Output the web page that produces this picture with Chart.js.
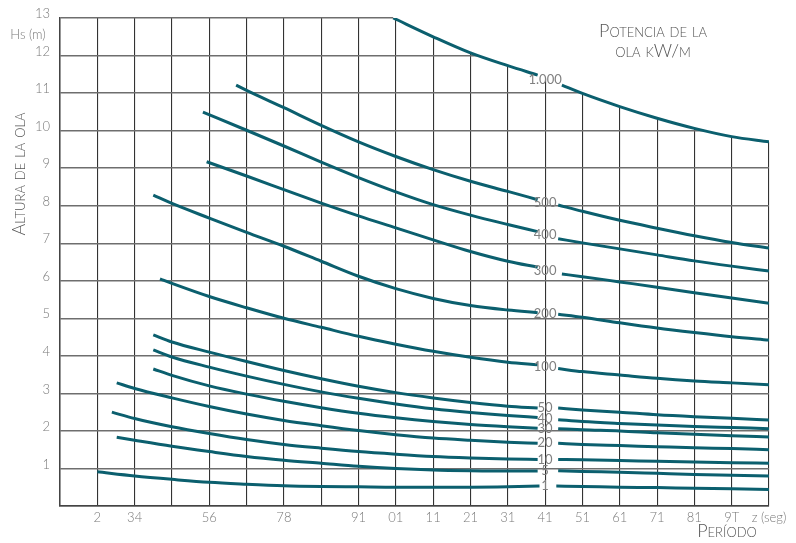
<!DOCTYPE html>
<html lang="es">
<head>
<meta charset="utf-8">
<title>Potencia de la ola</title>
<script src="https://cdn.jsdelivr.net/npm/chart.js@4.4.1/dist/chart.umd.min.js"></script>
<style>
  html, body { margin: 0; padding: 0; background: #fff; }
  #wrap { position: relative; width: 796px; height: 543px; }
</style>
</head>
<body>
<div id="wrap"><canvas id="olaChart"></canvas></div>
<script>
// rótulos del eje de períodos, uno por línea vertical (T = 1 ... 20), tal como aparecen
const etiquetasX = ['', '2', '34', '', '56', '', '78', '', '91', '01', '11', '21', '31', '41', '51', '61', '71', '81', '9T', 'z (seg)'];

// potencia de cada curva (kW/m)
const potencias = ['1', '5', '10', '20', '30', '40', '50', '100', '200', '300', '400', '500', '1.000'];

// [período, altura Hs]
const ola1 = [[2, 0.91], [3, 0.80], [4, 0.71], [5, 0.63], [6, 0.58], [7, 0.54], [8, 0.52], [9, 0.51], [10, 0.50], [11, 0.50], [12, 0.50], [13, 0.51], [13.85, 0.53], [14.3, 0.53], [15, 0.52], [16, 0.50], [17, 0.49], [18, 0.47], [19, 0.46], [20, 0.44]];
const ola5 = [[2.52, 1.83], [3, 1.75], [4, 1.59], [5, 1.45], [6, 1.32], [7, 1.22], [8, 1.14], [9, 1.06], [10, 1.00], [11, 0.96], [12, 0.94], [13, 0.93], [13.8, 0.93], [14.35, 0.94], [15, 0.92], [16, 0.90], [17, 0.87], [18, 0.84], [19, 0.82], [20, 0.80]];
const ola10 = [[2.39, 2.50], [3, 2.33], [4, 2.11], [5, 1.93], [6, 1.77], [7, 1.64], [8, 1.54], [9, 1.45], [10, 1.38], [11, 1.32], [12, 1.28], [13, 1.25], [13.8, 1.24], [14.35, 1.24], [15, 1.23], [16, 1.21], [17, 1.19], [18, 1.17], [19, 1.15], [20, 1.14]];
const ola20 = [[2.52, 3.28], [3, 3.13], [4, 2.88], [5, 2.65], [6, 2.45], [7, 2.28], [8, 2.14], [9, 2.01], [10, 1.90], [11, 1.81], [12, 1.75], [13, 1.70], [13.8, 1.67], [14.35, 1.67], [15, 1.64], [16, 1.61], [17, 1.58], [18, 1.55], [19, 1.53], [20, 1.50]];
const ola30 = [[3.5, 3.65], [4, 3.48], [5, 3.20], [6, 2.98], [7, 2.79], [8, 2.62], [9, 2.47], [10, 2.35], [11, 2.25], [12, 2.17], [13, 2.11], [13.8, 2.07], [14.35, 2.06], [15, 2.03], [16, 2.00], [17, 1.95], [18, 1.91], [19, 1.87], [20, 1.84]];
const ola40 = [[3.5, 4.16], [4, 3.97], [5, 3.70], [6, 3.46], [7, 3.24], [8, 3.04], [9, 2.87], [10, 2.72], [11, 2.59], [12, 2.49], [13, 2.41], [13.8, 2.36], [14.35, 2.30], [15, 2.25], [16, 2.20], [17, 2.16], [18, 2.12], [19, 2.09], [20, 2.06]];
const ola50 = [[3.5, 4.56], [4, 4.37], [5, 4.10], [6, 3.85], [7, 3.61], [8, 3.39], [9, 3.19], [10, 3.02], [11, 2.88], [12, 2.76], [13, 2.66], [13.8, 2.61], [14.35, 2.61], [15, 2.56], [16, 2.50], [17, 2.43], [18, 2.38], [19, 2.34], [20, 2.29]];
const ola100 = [[3.68, 6.05], [4, 5.93], [5, 5.58], [6, 5.28], [7, 5.00], [8, 4.76], [9, 4.52], [10, 4.31], [11, 4.12], [12, 3.96], [13, 3.83], [13.8, 3.76], [14.35, 3.66], [15, 3.58], [16, 3.49], [17, 3.40], [18, 3.33], [19, 3.28], [20, 3.23]];
const ola200 = [[3.5, 8.28], [4, 8.06], [5, 7.67], [6, 7.29], [7, 6.92], [8, 6.52], [9, 6.12], [10, 5.79], [11, 5.53], [12, 5.34], [13, 5.22], [13.8, 5.15], [14.35, 5.11], [15, 5.03], [16, 4.88], [17, 4.74], [18, 4.62], [19, 4.51], [20, 4.42]];
const ola300 = [[4.93, 9.17], [6, 8.79], [7, 8.43], [8, 8.07], [9, 7.73], [10, 7.41], [11, 7.09], [12, 6.78], [13, 6.52], [13.8, 6.36], [14.45, 6.18], [15, 6.11], [16, 5.97], [17, 5.83], [18, 5.68], [19, 5.54], [20, 5.40]];
const ola400 = [[4.83, 10.49], [6, 10.01], [7, 9.59], [8, 9.16], [9, 8.75], [10, 8.37], [11, 8.03], [12, 7.75], [13, 7.50], [13.8, 7.31], [14.35, 7.12], [15, 7.01], [16, 6.85], [17, 6.69], [18, 6.53], [19, 6.39], [20, 6.26]];
const ola500 = [[5.72, 11.21], [6, 11.07], [7, 10.61], [8, 10.14], [9, 9.70], [10, 9.31], [11, 8.96], [12, 8.65], [13, 8.38], [13.8, 8.16], [14.35, 8.02], [15, 7.85], [16, 7.61], [17, 7.40], [18, 7.20], [19, 7.02], [20, 6.87]];
const ola1000 = [[9.93, 13.0], [11, 12.50], [12, 12.07], [13, 11.73], [13.8, 11.48], [14.45, 11.21], [15, 10.99], [16, 10.64], [17, 10.33], [18, 10.06], [19, 9.84], [20, 9.70]];

const curvas = [ola1, ola5, ola10, ola20, ola30, ola40, ola50, ola100, ola200, ola300, ola400, ola500, ola1000];

const TEAL = '#0b5f6e';
const GRIS = '#7a7a7a';
const CORTE = 14; // línea vertical donde van los rótulos de potencia

// hueco en la curva donde se escribe el rótulo
function conHueco(pares) {
  const pts = [];
  pares.forEach(([t, h], i) => {
    if (i > 0 && pares[i - 1][0] < CORTE && t > CORTE) pts.push({x: CORTE, y: null});
    pts.push({x: t, y: h});
  });
  return pts;
}

// la rejilla no se dibuja por encima de la curva de 1.000
const recorteRejilla = {
  id: 'recorteRejilla',
  beforeDraw(chart) {
    const {ctx, chartArea: a, scales: {x, y}} = chart;
    const pts = ola1000.map(([t, h]) => [x.getPixelForValue(t), y.getPixelForValue(h)]);
    ctx.save();
    ctx.beginPath();
    ctx.rect(0, 0, chart.width, chart.height);
    ctx.moveTo(pts[0][0], a.top - 4);
    pts.forEach(([px, py]) => ctx.lineTo(px, py));
    ctx.lineTo(a.right + 4, pts[pts.length - 1][1]);
    ctx.lineTo(a.right + 4, a.top - 4);
    ctx.closePath();
    ctx.clip('evenodd');
  },
  beforeDatasetsDraw(chart) {
    chart.ctx.restore();
  }
};

const rotulos = {
  id: 'rotulos',
  afterDatasetsDraw(chart) {
    const {ctx, scales: {x, y}} = chart;
    ctx.save();
    ctx.fillStyle = '#808080';
    ctx.font = '13px Lato';
    ctx.textAlign = 'center';
    ctx.textBaseline = 'middle';
    curvas.forEach((c, i) => {
      const k = c.findIndex(p => p[0] > CORTE);
      const h = (c[k - 1][1] + c[k][1]) / 2;
      ctx.fillText(potencias[i], x.getPixelForValue(CORTE), y.getPixelForValue(h));
    });
    ctx.restore();
  },
  afterDraw(chart) {
    const {ctx} = chart;
    ctx.save();
    ctx.fillStyle = '#555';
    ctx.textAlign = 'center';
    ctx.textBaseline = 'alphabetic';
    ctx.font = 'small-caps 300 18px Lato';
    ctx.fillText('Potencia de la', 653, 37);
    ctx.fillText('ola kW/m', 653, 57);
    ctx.fillText('Período', 727, 537);

    ctx.save();
    ctx.translate(25, 174);
    ctx.rotate(-Math.PI / 2);
    ctx.fillText('Altura de la ola', 0, 0);
    ctx.restore();

    ctx.fillStyle = GRIS;
    ctx.font = '300 13px Lato';
    ctx.textBaseline = 'middle';
    ctx.fillText('Hs (m)', 28, 35);
    ctx.restore();
  }
};

new Chart(document.getElementById('olaChart'), {
  type: 'line',
  data: {
    datasets: curvas.map((c, i) => ({
      label: potencias[i],
      data: conHueco(c),
      borderColor: TEAL,
      borderWidth: 3,
      borderCapStyle: 'butt',
      pointRadius: 0,
      fill: false,
      spanGaps: false,
      cubicInterpolationMode: 'monotone'
    }))
  },
  options: {
    responsive: true,
    maintainAspectRatio: false,
    animation: false,
    layout: { padding: { left: 0, top: 18, right: 27, bottom: 0 } },
    plugins: {
      legend: { display: false },
      tooltip: { enabled: false }
    },
    scales: {
      x: {
        type: 'linear',
        min: 1,
        max: 20,
        grid: { color: '#333', lineWidth: 1.1, drawTicks: false },
        border: { color: '#444', width: 1.5 },
        ticks: {
          stepSize: 1,
          autoSkip: false,
          maxRotation: 0,
          padding: 4,
          color: GRIS,
          font: { family: 'Lato', size: 13, weight: '300' },
          callback: v => etiquetasX[v - 1] || ''
        },
        afterFit: s => { s.height = 37; s.paddingLeft = 0; s.paddingRight = 0; }
      },
      y: {
        min: 0,
        max: 13,
        grid: { color: '#6e6e6e', lineWidth: 1.4, drawTicks: false },
        border: { color: '#444', width: 1.5 },
        ticks: {
          stepSize: 1,
          padding: 10,
          labelOffset: -4,
          color: GRIS,
          font: { family: 'Lato', size: 13, weight: '300' },
          callback: v => (v === 0 ? '' : v)
        },
        afterFit: s => { s.width = 60; s.paddingTop = 0; s.paddingBottom = 0; }
      }
    }
  },
  plugins: [recorteRejilla, rotulos]
});
</script>
</body>
</html>
